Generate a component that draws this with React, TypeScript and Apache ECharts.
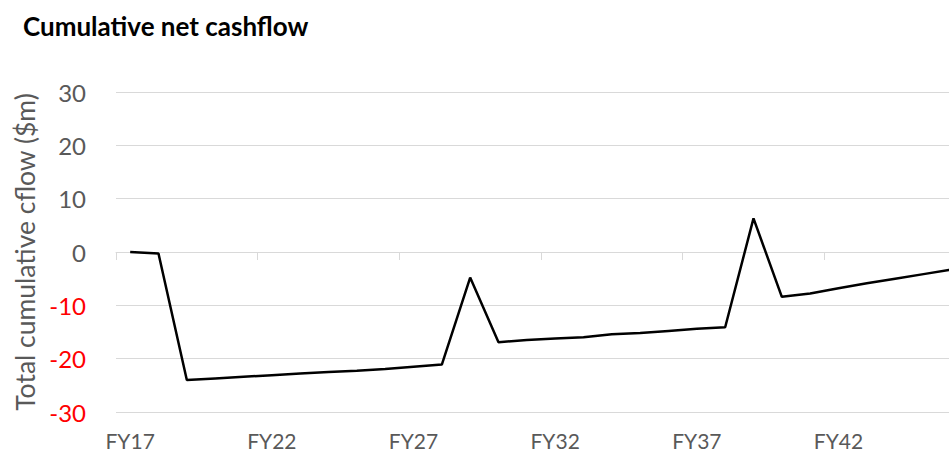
import React, { useEffect, useRef } from "react";
import * as echarts from "echarts";

const categories = [
  "FY17", "FY18", "FY19", "FY20", "FY21", "FY22", "FY23", "FY24", "FY25", "FY26",
  "FY27", "FY28", "FY29", "FY30", "FY31", "FY32", "FY33", "FY34", "FY35", "FY36",
  "FY37", "FY38", "FY39", "FY40", "FY41", "FY42", "FY43", "FY44", "FY45", "FY46",
];

const cumulativeCashflow = [
  0, -0.3, -24.0, -23.7, -23.4, -23.1, -22.8, -22.5, -22.25, -21.95,
  -21.5, -21.1, -4.8, -16.9, -16.5, -16.2, -16.0, -15.4, -15.2, -14.8,
  -14.4, -14.1, 6.3, -8.4, -7.8, -6.8, -5.85, -5.0, -4.15, -3.3,
];

const yTicks = { min: -30, max: 30, interval: 10 };

const titleText = "Cumulative net cashflow";
const yAxisName = "Total cumulative cflow ($m)";

const FONT = "Lato, 'Open Sans', sans-serif";

export default function App() {
  const ref = useRef<HTMLDivElement>(null);
  useEffect(() => {
    if (!ref.current) return;
    const chart = echarts.init(ref.current, undefined, { renderer: "svg" });
    chart.setOption({
      animation: false,
      backgroundColor: "#ffffff",
      title: {
        text: titleText,
        left: 18,
        top: 8,
        textStyle: { fontFamily: FONT, fontWeight: "bold", fontSize: 26, color: "#000000" },
      },
      grid: { left: 116, right: 0, top: 92, bottom: 44, containLabel: false },
      xAxis: [
        {
          type: "category",
          data: categories,
          position: "bottom",
          boundaryGap: true,
          axisLine: { show: false, onZero: false },
          axisTick: { show: false },
          axisLabel: {
            interval: 4,
            margin: 18,
            fontFamily: FONT,
            fontSize: 21,
            color: "#595959",
          },
          splitLine: { show: false },
        },
        {
          type: "category",
          data: categories,
          position: "top",
          boundaryGap: true,
          axisLine: { show: true, onZero: true, lineStyle: { color: "#d9d9d9", width: 1 } },
          axisTick: { show: true, inside: true, interval: 4, length: 8, lineStyle: { color: "#d9d9d9" } },
          axisLabel: { show: false },
          splitLine: { show: false },
        },
      ],
      yAxis: {
        type: "value",
        min: yTicks.min,
        max: yTicks.max,
        interval: yTicks.interval,
        name: yAxisName,
        nameLocation: "middle",
        nameGap: 72,
        nameTextStyle: { fontFamily: FONT, fontSize: 26.5, color: "#595959" },
        axisLine: { show: false },
        axisTick: { show: false },
        axisLabel: {
          margin: 30,
          formatter: (v: number) => (v < 0 ? `{neg|${v}}` : `{pos|${v}}`),
          rich: {
            neg: { fontFamily: FONT, fontSize: 24, color: "#ff0000" },
            pos: { fontFamily: FONT, fontSize: 24, color: "#595959" },
          },
        },
        splitLine: { show: true, lineStyle: { color: "#d9d9d9", width: 1 } },
      },
      series: [
        {
          type: "line",
          xAxisIndex: 0,
          data: cumulativeCashflow,
          showSymbol: false,
          symbol: "none",
          lineStyle: { color: "#000000", width: 2.5 },
          itemStyle: { color: "#000000" },
          clip: true,
        },
      ],
    });
    return () => chart.dispose();
  }, []);
  return (
    <div
      ref={ref}
      style={{ position: "fixed", left: 0, top: 0, width: 966, height: 456, background: "#fff" }}
    />
  );
}
